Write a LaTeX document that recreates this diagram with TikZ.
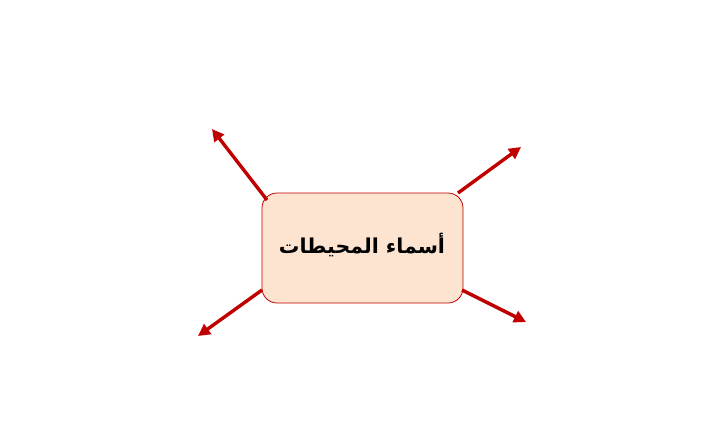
\documentclass[tikz,border=0pt]{standalone}
\usepackage{fontspec}
\usetikzlibrary{arrows.meta}
\newfontfamily\arabicfont[Script=Arabic]{DejaVu Sans}
\TeXXeTstate=1
\definecolor{arrowred}{HTML}{C00000}
\definecolor{peach}{HTML}{FCE4D0}
\begin{document}
\begin{tikzpicture}[x=1pt,y=-1pt,
  mainbox/.style={draw=arrowred, line width=0.8pt, fill=peach, rounded corners=15pt,
    minimum width=201pt, minimum height=110pt, inner sep=0pt},
  spoke/.style={draw=arrowred, line width=3.4pt, -{Triangle[length=12pt,width=12pt]}}]
\useasboundingbox (0,0) rectangle (706,420);
\node[mainbox] (box) at (362.5,248) {};
\node (label) at (362,245) {\arabicfont\bfseries\fontsize{20.5}{24}\selectfont\beginR أسماء المحيطات\endR};
\coordinate (s1) at (267,200); \coordinate (t1) at (212,129);
\coordinate (s2) at (458,193); \coordinate (t2) at (521,147);
\coordinate (s3) at (262,290); \coordinate (t3) at (198,336);
\coordinate (s4) at (462,290); \coordinate (t4) at (526,322);
\draw[spoke] (s1) -- (t1);
\draw[spoke] (s2) -- (t2);
\draw[spoke] (s3) -- (t3);
\draw[spoke] (s4) -- (t4);
\end{tikzpicture}
\end{document}
